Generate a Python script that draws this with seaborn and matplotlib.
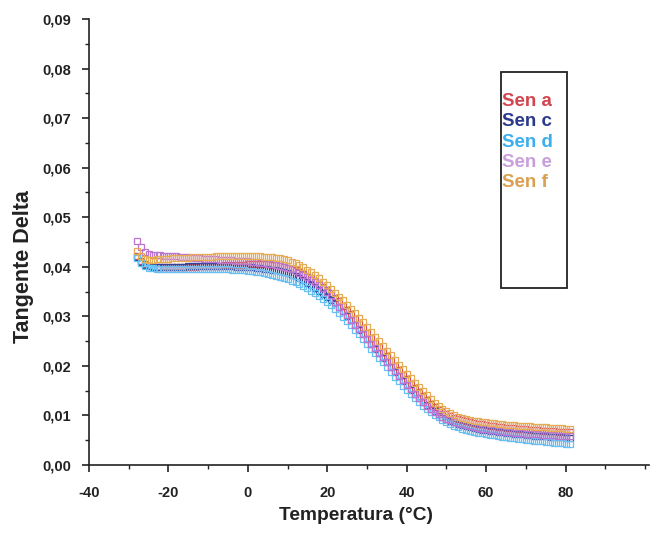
import numpy as np
import pandas as pd
import matplotlib
matplotlib.use("Agg")
import matplotlib.pyplot as plt
import seaborn as sns
from matplotlib.lines import Line2D
from matplotlib.patches import Rectangle
from matplotlib.ticker import MultipleLocator

# ---------------- data ----------------
temperatura = list(range(-28, 82))

sen_a = [.0422, .0412, .0405, .0402, .0400, .0399, .0399, .0399, .0399, .0399,
         .0399, .0399, .0400, .0400, .0400, .0400, .0401, .0401, .0401, .0402,
         .0402, .0402, .0403, .0403, .0403, .0404, .0404, .0404, .0405, .0405,
         .0405, .0405, .0405, .0405, .0404, .0403, .0402, .0400, .0398, .0396,
         .0393, .0390, .0386, .0382, .0377, .0372, .0366, .0360, .0354, .0347,
         .0338, .0330, .0321, .0313, .0304, .0295, .0285, .0276, .0266, .0257,
         .0247, .0238, .0228, .0219, .0209, .0200, .0191, .0182, .0173, .0164,
         .0155, .0147, .0139, .0131, .0124, .0117, .0111, .0106, .0102, .0098,
         .0095, .0092, .0090, .0088, .0086, .0084, .0083, .0082, .0080, .0079,
         .0078, .0077, .0076, .0075, .0075, .0074, .0073, .0072, .0072, .0071,
         .0070, .0070, .0069, .0069, .0068, .0068, .0067, .0067, .0066, .0066]

sen_c = [.0420, .0410, .0403, .0401, .0400, .0400, .0400, .0400, .0400, .0400,
         .0400, .0400, .0400, .0401, .0401, .0401, .0401, .0401, .0401, .0401,
         .0401, .0401, .0401, .0401, .0401, .0400, .0400, .0400, .0399, .0399,
         .0398, .0397, .0396, .0395, .0394, .0393, .0391, .0389, .0387, .0384,
         .0381, .0377, .0373, .0368, .0363, .0358, .0352, .0346, .0339, .0333,
         .0326, .0318, .0310, .0301, .0292, .0283, .0273, .0264, .0254, .0245,
         .0235, .0226, .0216, .0207, .0198, .0188, .0179, .0170, .0161, .0152,
         .0144, .0136, .0128, .0121, .0114, .0108, .0102, .0097, .0093, .0089,
         .0086, .0083, .0080, .0078, .0076, .0074, .0073, .0071, .0070, .0069,
         .0068, .0067, .0066, .0065, .0064, .0063, .0062, .0062, .0061, .0060,
         .0059, .0059, .0058, .0058, .0057, .0057, .0056, .0056, .0055, .0055]

sen_d = [.0418, .0408, .0401, .0398, .0397, .0396, .0396, .0396, .0396, .0396,
         .0396, .0396, .0396, .0396, .0396, .0396, .0396, .0396, .0396, .0396,
         .0396, .0395, .0395, .0395, .0394, .0394, .0393, .0393, .0392, .0391,
         .0390, .0389, .0388, .0386, .0384, .0382, .0380, .0378, .0375, .0372,
         .0369, .0365, .0361, .0357, .0352, .0347, .0341, .0335, .0329, .0322,
         .0315, .0307, .0299, .0291, .0282, .0273, .0264, .0254, .0245, .0235,
         .0226, .0216, .0207, .0197, .0188, .0178, .0169, .0160, .0151, .0143,
         .0135, .0127, .0120, .0113, .0107, .0101, .0096, .0091, .0087, .0083,
         .0079, .0076, .0073, .0071, .0069, .0067, .0065, .0064, .0062, .0061,
         .0060, .0058, .0057, .0056, .0055, .0054, .0053, .0052, .0051, .0050,
         .0049, .0048, .0048, .0047, .0046, .0045, .0045, .0044, .0043, .0043]

sen_e = [.0452, .0440, .0430, .0426, .0424, .0423, .0423, .0422, .0422, .0421,
         .0421, .0420, .0420, .0419, .0418, .0418, .0417, .0416, .0416, .0415,
         .0415, .0414, .0414, .0413, .0413, .0412, .0412, .0411, .0411, .0410,
         .0409, .0408, .0407, .0406, .0405, .0404, .0402, .0400, .0398, .0395,
         .0392, .0388, .0384, .0379, .0374, .0369, .0363, .0357, .0350, .0344,
         .0328, .0319, .0311, .0302, .0293, .0283, .0274, .0264, .0255, .0245,
         .0236, .0226, .0217, .0207, .0198, .0189, .0180, .0171, .0162, .0153,
         .0143, .0135, .0127, .0120, .0113, .0107, .0102, .0097, .0093, .0090,
         .0087, .0084, .0082, .0080, .0078, .0076, .0075, .0073, .0072, .0071,
         .0070, .0069, .0068, .0067, .0066, .0065, .0065, .0064, .0063, .0063,
         .0062, .0062, .0061, .0061, .0060, .0060, .0059, .0059, .0058, .0058]

sen_f = [.0432, .0422, .0416, .0414, .0414, .0415, .0415, .0416, .0416, .0417,
         .0417, .0418, .0418, .0418, .0419, .0419, .0419, .0420, .0420, .0420,
         .0421, .0421, .0421, .0421, .0421, .0421, .0421, .0421, .0421, .0421,
         .0421, .0421, .0420, .0420, .0419, .0418, .0417, .0415, .0413, .0410,
         .0407, .0403, .0399, .0394, .0389, .0383, .0377, .0370, .0363, .0356,
         .0348, .0340, .0332, .0323, .0315, .0306, .0297, .0288, .0278, .0269,
         .0259, .0250, .0240, .0231, .0221, .0212, .0202, .0193, .0184, .0175,
         .0166, .0157, .0149, .0141, .0133, .0126, .0119, .0113, .0108, .0104,
         .0100, .0097, .0095, .0093, .0091, .0089, .0088, .0087, .0086, .0085,
         .0084, .0083, .0082, .0081, .0081, .0080, .0079, .0079, .0078, .0078,
         .0077, .0077, .0076, .0076, .0075, .0075, .0074, .0074, .0073, .0073]

series_names = ["Sen a", "Sen c", "Sen d", "Sen e", "Sen f"]
series_values = [sen_a, sen_c, sen_d, sen_e, sen_f]
marker_colors = ["#d6505a", "#34449a", "#68bff2", "#bb74d0", "#e6ab55"]
label_colors = ["#d2474f", "#2b3a8c", "#3aaeee", "#c9a0dc", "#d9a14f"]

x_ticks = [-40, -20, 0, 20, 40, 60, 80]
x_tick_labels = ["-40", "-20", "0", "20", "40", "60", "80"]
y_ticks = [0.00, 0.01, 0.02, 0.03, 0.04, 0.05, 0.06, 0.07, 0.08, 0.09]
y_tick_labels = ["0,00", "0,01", "0,02", "0,03", "0,04",
                 "0,05", "0,06", "0,07", "0,08", "0,09"]

# ---------------- style ----------------
sns.set_style("ticks")
plt.rcParams["font.family"] = ["Liberation Sans", "DejaVu Sans"]
plt.rcParams["font.weight"] = "bold"

frames = []
for name, vals in zip(series_names, series_values):
    frames.append(pd.DataFrame({"Temperatura": temperatura,
                                "Tangente": vals,
                                "Serie": name}))
df = pd.concat(frames, ignore_index=True)

W, H = 655, 539
fig = plt.figure(figsize=(W / 100, H / 100), dpi=100)
ax = fig.add_axes([89 / W, 74 / H, (649 - 89) / W, (465 - 19) / H])

for name, c in zip(series_names, marker_colors):
    sub = df[df["Serie"] == name]
    sns.lineplot(data=sub, x="Temperatura", y="Tangente", ax=ax,
                 color=c, marker="s", markersize=5,
                 markerfacecolor="none", markeredgecolor=c,
                 markeredgewidth=0.9, linewidth=0,
                 legend=False, sort=False, estimator=None)

ax.set_xlim(-40, 101)
ax.set_ylim(0, 0.09)
sns.despine(ax=ax)
for s in ["left", "bottom"]:
    ax.spines[s].set_linewidth(1.2)
    ax.spines[s].set_color("#222222")

ax.set_xticks(x_ticks)
ax.set_xticklabels(x_tick_labels)
ax.xaxis.set_minor_locator(MultipleLocator(10))
ax.set_yticks(y_ticks)
ax.set_yticklabels(y_tick_labels)
ax.yaxis.set_minor_locator(MultipleLocator(0.005))

ax.tick_params(axis="both", which="major", direction="out", width=1.2,
               color="#222222", labelsize=10.5, labelcolor="#222222")
ax.tick_params(axis="both", which="minor", direction="out", width=1.0,
               length=3, color="#222222")
ax.tick_params(axis="x", which="major", length=5, pad=10)
ax.tick_params(axis="y", which="major", length=5, pad=8)

ax.set_xlabel("Temperatura (°C)", fontsize=13.8, fontweight="bold",
              color="#222222")
ax.set_ylabel("Tangente Delta", fontsize=15.5, fontweight="bold",
              color="#222222")
ax.xaxis.set_label_coords(0.477, -0.094)
ax.yaxis.set_label_coords(-0.098, 0.446)

# legend box
rect = Rectangle((501 / W, (H - 288) / H), 66 / W, 216 / H,
                 transform=fig.transFigure, fill=False,
                 edgecolor="#222222", linewidth=1.3)
fig.add_artist(rect)

handles = [Line2D([], [], color=c, linestyle="none") for c in label_colors]
leg = ax.legend(handles, series_names, loc="upper left",
                bbox_to_anchor=(502 / W, 1 - 93 / H),
                bbox_transform=fig.transFigure,
                frameon=False, handlelength=0, handletextpad=0,
                borderpad=0, borderaxespad=0, labelspacing=0.17,
                prop={"size": 13.5, "weight": "bold"},
                labelcolor=label_colors)

fig.savefig("out.png", dpi=100)
